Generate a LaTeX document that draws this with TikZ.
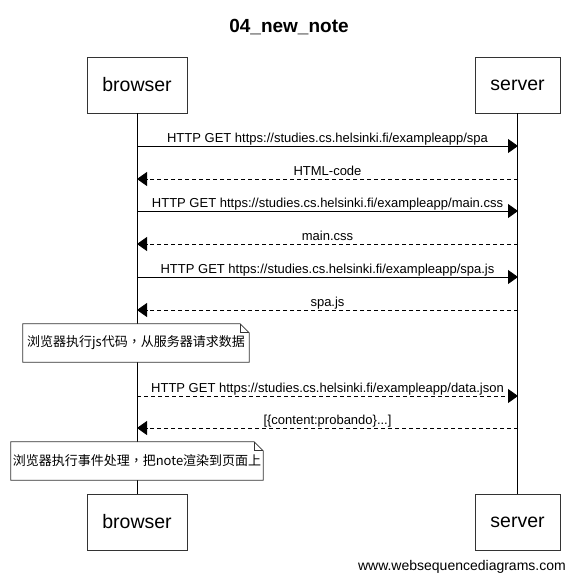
\documentclass[tikz,border=0pt]{standalone}
\usepackage{fontspec}
\setmainfont{Liberation Sans}
\newfontfamily\cjk{Noto Sans CJK SC}
\newfontfamily\cjktc{Noto Sans CJK TC}
\usetikzlibrary{arrows.meta}
\tikzset{
  actor/.style={draw=black!80,line width=0.8pt,minimum height=56pt,inner sep=0pt,font=\fontsize{19.5}{22}\selectfont},
  msg/.style={line width=0.8pt,-{Triangle[length=10pt,width=14pt]}},
  reply/.style={msg,dashed,dash pattern=on 4pt off 3pt},
  lbl/.style={anchor=base,yshift=4pt,inner sep=0pt,font=\fontsize{13}{15}\selectfont},
  note/.style={fill=white,minimum height=38pt,inner sep=0pt,font=\cjk\fontsize{13}{15}\selectfont},
  notebox/.style={draw=black!80,line width=0.8pt,line join=miter}
}

\begin{document}
\begin{tikzpicture}[x=1pt,y=-1pt]
      \useasboundingbox[fill=white] (0,0) rectangle (575,581);
      \node[inner sep=0pt,font=\bfseries\fontsize{19}{22}\selectfont] (title) at (289,27) {04\_new\_note};

      \node[actor,minimum width=100pt] (bt) at (137,85) {browser};
      \node[actor,minimum width=85pt] (st) at (517.5,85) {server};
      \node[actor,minimum width=100pt] (bb) at (137,522) {browser};
      \node[actor,minimum width=85pt] (sb) at (517.5,522) {server};

      \draw[line width=0.8pt] (bt) -- (bb);
      \draw[line width=0.8pt] (st) -- (sb);

      \coordinate (b1) at (137,146); \coordinate (s1) at (518,146);
      \coordinate (b2) at (137,179); \coordinate (s2) at (518,179);
      \coordinate (b3) at (137,211); \coordinate (s3) at (518,211);
      \coordinate (b4) at (137,244); \coordinate (s4) at (518,244);
      \coordinate (b5) at (137,277); \coordinate (s5) at (518,277);
      \coordinate (b6) at (137,310); \coordinate (s6) at (518,310);
      \coordinate (b7) at (137,396); \coordinate (s7) at (518,396);
      \coordinate (b8) at (137,428); \coordinate (s8) at (518,428);

      \draw[msg] (b1) -- node[lbl] {HTTP GET https://studies.cs.helsinki.fi/exampleapp/spa} (s1);
      \draw[reply] (s2) -- node[lbl] {HTML-code} (b2);
      \draw[msg] (b3) -- node[lbl] {HTTP GET https://studies.cs.helsinki.fi/exampleapp/main.css} (s3);
      \draw[reply] (s4) -- node[lbl] {main.css} (b4);
      \draw[msg] (b5) -- node[lbl] {HTTP GET https://studies.cs.helsinki.fi/exampleapp/spa.js} (s5);
      \draw[reply] (s6) -- node[lbl] {spa.js} (b6);
      \draw[reply] (b7) -- node[lbl] {HTTP GET https://studies.cs.helsinki.fi/exampleapp/data.json} (s7);
      \draw[reply] (s8) -- node[lbl] {[\{content:probando\}...]} (b8);

      \node[note,minimum width=226pt] (n1) at (136,343) {浏览器执行js代码{\cjktc ，}从服务器请求数据};
      \draw[notebox] (n1.south west) -- (n1.north west) -- ([xshift=-9pt]n1.north east) -- ([yshift=-9pt]n1.north east) -- (n1.south east) -- cycle;
      \draw[notebox] ([xshift=-9pt]n1.north east) |- ([yshift=-9pt]n1.north east);

      \node[note,minimum width=252pt] (n2) at (137,461) {浏览器执行事件处理{\cjktc ，}把note渲染到页面上};
      \draw[notebox] (n2.south west) -- (n2.north west) -- ([xshift=-9pt]n2.north east) -- ([yshift=-9pt]n2.north east) -- (n2.south east) -- cycle;
      \draw[notebox] ([xshift=-9pt]n2.north east) |- ([yshift=-9pt]n2.north east);

      \node[anchor=east,inner sep=0pt,font=\fontsize{14}{16}\selectfont] (footer) at (566,567) {www.websequencediagrams.com};
\end{tikzpicture}
\end{document}
